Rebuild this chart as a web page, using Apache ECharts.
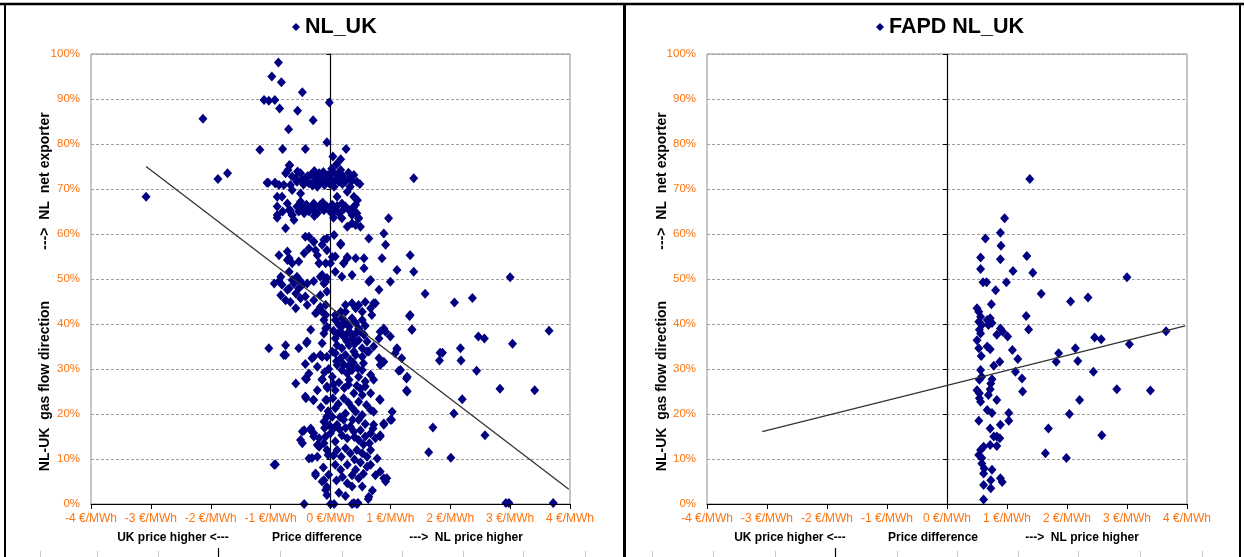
<!DOCTYPE html>
<html>
<head>
<meta charset="utf-8">
<script src="https://cdn.jsdelivr.net/npm/echarts@6/dist/echarts.min.js"></script>
<style>
html,body{margin:0;padding:0;background:#fff;}
#chart{width:1244px;height:557px;}
</style>
</head>
<body>
<div id="chart"></div>
<script>
// ---- DATA ----
// x: price difference (€/MWh), y: NL-UK gas flow direction (%)
const nlukPoints = [
[-0.87,98.1],[-0.98,95.0],[-0.82,93.7],[-0.47,91.5],[-1.11,89.8],[-1.03,89.6],[-0.93,89.8],[-0.02,89.2],
[-0.85,87.9],[-0.55,87.4],[-2.13,85.6],[-0.29,85.3],[-0.70,83.3],[-0.06,80.4],[-1.18,78.7],[-0.80,78.9],
[-0.42,78.9],[0.26,78.9],[0.04,77.2],[0.17,76.6],[-0.69,75.3],[1.39,72.4],[-3.08,68.3],[-1.88,72.2],
[-1.72,73.5],[-1.04,71.4],[-0.92,71.3],[-0.89,68.3],
[-1.06,71.4],[-0.93,71.4],[-0.78,70.9],[-0.75,73.5],[-0.68,75.3],[-0.71,74.2],[-0.64,72.8],[-0.56,71.6],
[-0.50,73.5],[-0.42,72.4],[-0.33,73.1],[-0.28,71.6],[-0.25,72.8],[-0.19,73.5],[-0.14,72.4],[-0.08,71.6],
[-0.04,73.1],[0.00,72.4],[0.04,73.9],[0.08,72.0],[0.11,73.1],[0.17,74.2],[0.21,72.8],[0.25,71.6],
[0.33,72.4],[0.39,73.1],[0.44,71.6],[0.49,71.1],[-0.17,71.3],[-0.36,71.3],[-0.67,70.9],[-0.86,70.9],
[-0.22,70.5],[0.06,70.5],[0.14,71.6],[-0.47,72.0],[-0.58,72.4],[0.33,70.5],[0.28,69.4],[0.39,68.3],
[0.11,68.3],[-0.81,68.3],[-0.50,69.0],[-0.64,69.8],
[-0.45,71.0],[-0.38,72.9],[-0.30,70.8],[-0.20,72.1],[-0.10,70.9],[-0.02,71.2],[0.06,71.8],[0.13,72.6],
[0.20,71.1],[0.30,73.6],[0.36,71.9],[-0.12,73.8],[-0.27,74.0],[0.02,74.5],[0.10,75.5],[-0.55,73.9],
[-0.89,66.1],[-0.89,64.2],[-0.72,66.8],[-0.67,65.3],[-0.64,64.2],[-0.61,63.1],[-0.56,66.1],[-0.50,67.2],
[-0.44,64.6],[-0.36,65.0],[-0.31,65.7],[-0.22,64.6],[-0.17,66.5],[-0.11,65.3],[-0.06,66.1],[0.03,66.5],
[0.08,65.3],[0.14,64.6],[0.19,66.8],[0.25,66.1],[0.31,65.3],[0.36,64.2],[0.42,66.5],[0.44,64.6],
[0.47,63.5],[-0.28,66.8],
[-0.80,65.0],[-0.48,65.8],[-0.27,64.0],[-0.13,67.0],[0.00,64.9],[0.11,66.2],[0.22,65.5],[0.38,65.9],
[0.05,63.6],[-0.40,66.5],[0.45,67.5],
[-0.89,63.6],[-0.69,65.3],[-0.64,64.2],[-0.53,65.0],[-0.42,65.7],[-0.28,65.3],[-0.19,66.1],[-0.14,65.7],
[0.06,65.7],[0.19,63.5],[0.33,65.3],[0.36,62.4],[0.42,62.0],[0.47,63.5],[0.50,61.6],[0.28,61.6],[0.97,63.5],
[-0.75,61.3],[-0.42,59.4],[-0.36,56.8],[-0.28,58.3],[-0.14,57.6],[-0.06,59.0],[0.06,59.8],[0.17,57.9],
[0.64,59.0],[0.89,60.1],[0.92,57.6],[0.86,54.6],[1.33,55.3],
[-0.86,55.3],[-0.72,56.1],[-0.69,54.6],[-0.53,53.9],[-0.44,55.7],[-0.22,55.3],[-0.19,53.5],[-0.08,53.5],
[0.08,55.0],[0.08,51.6],[0.22,53.5],[0.28,54.6],[0.42,54.6],[0.56,54.6],[0.36,50.9],[0.56,52.4],
[0.64,49.4],[0.67,49.8],[0.19,50.5],[-0.08,49.4],[-0.14,50.9],[-0.06,50.2],[-0.83,50.5],[-0.81,48.7],
[-0.94,49.0],[-0.69,51.6],[-0.64,49.8],[1.11,52.0],[1.00,49.4],[1.39,51.6],[3.00,50.4],
[-0.36,59.4],[-0.28,58.3],[-0.11,58.7],[-0.25,56.4],[-0.19,53.5],[-0.06,56.4],[0.00,53.5],[0.03,54.9],
[0.17,57.6],[0.22,53.5],[0.28,54.9],[-0.72,54.2],[-0.64,53.5],
[-0.86,49.5],[-0.72,47.6],[-0.61,49.0],[-0.56,50.5],[-0.50,49.5],[-0.39,49.0],[-0.28,49.5],[-0.17,50.5],[-0.11,49.0],
[-0.83,46.4],[-0.69,47.9],[-0.67,44.9],[-0.58,46.8],[-0.50,45.7],[-0.42,46.1],[-0.39,44.2],[-0.28,45.3],
[-0.22,42.7],[-0.14,42.7],[-0.08,44.2],[-0.06,47.2],[-0.17,46.4],[-0.53,47.9],[-0.47,48.7],[-0.58,43.5],
[-0.75,45.3],[0.81,47.6],[0.72,44.6],[0.25,44.2],[0.36,44.6],[0.42,43.5],[0.47,44.2],[0.53,42.7],
[0.58,44.9],[0.67,43.5],[0.69,42.0],[0.25,42.7],[0.17,42.7],[0.08,42.0],[-0.25,42.4],[-0.17,43.8],[-0.08,42.0],
[0.75,44.6],[1.58,46.7],[2.07,44.8],[2.37,45.8],[1.32,41.8],[1.36,38.8],
[0.08,40.9],[0.14,39.8],[0.19,41.3],[0.25,40.5],[0.31,39.4],[0.36,41.3],[0.42,40.2],[0.47,39.0],
[0.53,40.9],[0.17,38.3],[0.22,37.2],[0.28,37.9],[0.36,36.8],[0.42,37.9],[0.47,36.4],[0.56,37.6],
[0.61,36.1],[0.08,36.8],[0.11,35.3],[0.19,34.6],[0.31,35.3],[0.39,33.9],[0.53,34.6],[0.64,33.9],
[0.72,35.0],[0.81,36.8],[0.83,38.3],[0.92,38.3],[1.00,37.2],[1.11,34.6],[1.33,42.0],[1.36,38.7],
[-0.11,40.9],[-0.08,39.0],[-0.14,35.7],[-0.39,36.1],[-0.75,35.3],[-1.03,34.6],[-0.53,34.6],[0.03,33.9],
[-0.75,33.1],[-0.40,35.8],[-0.33,38.7],[-0.11,37.9],[-0.06,39.4],[0.89,39.0],
[0.05,38.5],[0.12,37.8],[0.20,39.6],[0.27,36.2],[0.33,38.1],[0.40,35.5],[0.50,38.3],[0.58,39.6],
[-0.78,33.1],[-0.28,32.7],[-0.17,33.1],[-0.06,32.7],[0.08,33.5],[0.17,32.4],[0.25,33.1],[0.33,32.0],
[0.42,33.1],[0.53,32.7],[0.61,33.9],[0.81,32.4],[1.08,33.5],[1.11,34.4],[1.19,32.4],
[-0.42,27.9],[-0.36,29.0],[-0.58,26.8],[-0.14,27.6],[0.11,30.9],[0.19,29.8],[0.28,29.0],[0.36,29.8],
[0.31,27.6],[0.47,28.3],[0.53,29.8],[0.58,27.2],[0.67,28.7],[0.72,27.6],[0.83,30.9],[0.89,31.6],
[1.17,29.8],[1.28,28.3],[0.03,28.3],[1.14,29.6],[1.27,27.9],[1.27,25.2],
[-0.42,31.1],[-0.31,32.4],[-0.22,30.5],[-0.14,32.7],[-0.06,26.1],[-0.22,25.3],[-0.40,27.7],[-0.14,27.7],
[0.10,31.7],[0.22,31.0],[0.30,30.6],[0.38,31.4],[0.45,30.2],[0.55,31.3],[0.05,26.6],[0.14,27.0],
[0.23,25.8],[0.30,26.5],[0.44,26.3],[0.50,25.6],[-0.03,30.0],[-0.10,29.3],[-0.05,25.8],
[1.83,33.6],[1.82,31.9],[1.87,33.6],[2.17,34.6],[2.18,31.9],[2.47,37.2],[2.57,36.8],[3.04,35.6],
[3.65,38.5],[2.44,29.6],[2.83,25.6],[3.41,25.3],[2.20,23.3],[2.06,20.1],[1.71,17.0],[2.58,15.3],
[1.64,11.5],[2.01,10.3],[2.93,0.2],[2.98,0.2],[3.72,0.2],
[-0.42,23.9],[-0.28,23.1],[-0.06,23.1],[0.08,25.3],[0.22,23.5],[0.39,24.6],[0.47,22.7],[0.53,24.2],
[0.58,26.1],[0.67,24.6],[0.72,20.5],[0.83,23.1],[1.28,25.0],[0.08,21.3],[0.25,20.1],[0.42,20.5],
[0.53,19.8],[0.67,20.9],[1.03,20.5],[-0.06,19.4],[-0.11,18.3],[-0.41,23.5],[-0.29,23.1],[-0.08,23.1],
[0.82,23.3],[0.04,23.5],[0.13,22.2],[0.30,22.5],[0.36,21.4],[0.60,22.0],[-0.16,21.5],[-0.04,20.6],
[0.03,19.4],[0.11,17.6],[0.22,18.7],[0.33,17.2],[0.47,18.7],[0.50,16.4],[0.72,17.6],[0.89,17.9],
[1.00,18.7],[-0.47,16.1],[-0.33,16.4],[-0.28,15.0],[-0.50,14.2],[-0.19,14.6],[-0.08,15.0],[0.00,15.7],
[0.08,13.9],[0.19,15.3],[0.28,14.6],[0.39,16.1],[0.47,14.2],[0.58,15.0],[0.67,15.7],[0.75,14.6],
[0.83,15.3],[-0.19,12.7],[-0.06,12.0],[0.11,12.0],[0.25,12.4],[0.33,11.3],[0.44,12.0],[0.53,11.3],
[0.61,10.5],[0.67,12.0],[0.78,10.1],[-0.36,10.1],[-0.94,8.7],[-0.44,16.4],[-0.33,16.8],[-0.28,15.7],
[-0.22,13.1],[-0.22,10.5],[-0.06,19.4],[-0.11,13.5],[-0.31,10.2],[-0.47,13.5],[1.02,18.7],[0.89,17.6],
[0.83,15.0],[0.71,16.8],[0.16,19.3],[0.37,18.7],[0.58,17.8],[0.05,16.8],[0.15,16.6],[0.25,16.9],
[0.40,14.9],[0.55,13.2],[0.65,13.5],[0.05,10.8],[0.18,10.5],[0.40,9.9],[0.50,9.2],[-0.02,17.5],
[-0.10,16.9],[-0.04,10.9],
[-0.25,6.4],[-0.11,5.3],[-0.06,3.8],[-0.06,2.0],[0.08,8.7],[0.17,7.6],[0.28,8.7],[0.36,6.4],
[0.42,7.6],[0.47,5.7],[0.61,8.3],[0.67,8.7],[0.75,6.4],[0.83,7.2],[0.89,5.7],[0.94,5.7],
[0.28,4.6],[0.36,3.9],[0.53,3.9],[0.64,1.6],[-0.44,0.0],[0.00,0.0],[0.06,0.0],[0.36,0.0],[0.44,0.0],
[-0.25,6.8],[-0.14,5.0],[-0.08,3.1],[0.92,5.0],[0.63,1.1],[0.39,0.2],[0.46,0.2],[0.10,5.2],[0.20,6.0],
[0.55,6.7],[0.14,2.5],[0.25,1.8],[0.70,3.0],[-0.12,8.1],[-0.03,6.5],[-0.92,8.8]
];

const fapdPoints = [
[1.38,72.2],[0.96,63.5],[0.89,60.3],[0.64,59.0],[0.90,57.4],[0.56,54.8],[0.89,54.4],[1.33,55.1],
[0.56,52.2],[1.10,51.8],[1.43,51.4],[0.60,49.3],[0.66,49.3],[0.99,49.3],[0.81,47.5],[1.57,46.7],
[2.06,45.0],[2.35,45.9],[3.00,50.4],
[0.74,44.4],[0.50,43.5],[0.53,42.7],[0.56,41.6],[0.53,40.5],[0.58,39.8],[0.54,38.7],[0.56,37.9],
[0.50,36.4],[0.67,40.9],[0.72,41.3],[0.75,40.2],[0.69,39.8],[1.32,41.8],[1.36,38.8],[0.89,39.0],
[0.93,38.3],[0.83,37.6],[1.01,37.2],[0.67,35.0],[0.72,34.4],[0.53,34.6],[0.57,32.9],[1.09,34.2],
[1.18,32.2],[0.88,31.6],[0.78,30.7],[1.14,29.4],[1.25,27.9],[0.56,29.8],[0.58,28.3],[0.54,27.6],
[0.75,27.7],[0.73,26.8],[0.50,25.3],[0.54,24.6],[0.72,25.5],[0.69,24.2],[0.56,22.7],[0.54,23.5],
[0.83,23.1],[1.26,25.0],[1.86,33.5],[1.82,31.6],[2.14,34.6],[2.18,31.8],[2.44,29.4],[2.46,37.0],
[2.57,36.6],[3.04,35.5],[3.65,38.4],[2.83,25.5],[3.39,25.2],[2.21,23.1],[2.04,20.0],[0.67,20.9],
[0.75,20.2],[1.03,20.2],[1.03,18.5],[0.53,18.5],[0.89,17.6],[0.72,16.8],[0.78,15.0],[0.83,15.0],
[0.88,14.6],[0.72,13.1],[0.83,12.9],[0.56,12.0],[0.61,12.7],[0.53,10.9],[0.58,10.2],[1.69,16.8],
[2.58,15.3],[1.64,11.3],[1.99,10.2],[0.58,9.0],[0.62,7.9],[0.61,6.8],[0.75,7.6],[0.89,5.7],
[0.92,4.9],[0.73,5.3],[0.73,3.5],[0.61,4.2],[0.61,1.0]
];

// linear trend lines (end points)
const nlukTrendX = [-3.08, 3.98];
const nlukTrendY = [75.0, 3.3];
const fapdTrendX = [-3.08, 3.97];
const fapdTrendY = [16.1, 39.6];

const xTicks = { min: -4, max: 4, step: 1, unit: ' €/MWh' };
const yTicks = { min: 0, max: 100, step: 10, unit: '%' };

const titles = ['NL_UK', 'FAPD NL_UK'];
const xNameParts = ['UK price higher <---', 'Price difference', '--->  NL price higher'];
const yNameParts = ['NL-UK  gas flow direction', '--->  NL  net exporter'];

// ---- CHART ----
const ORANGE = '#FF7410';
const NAVY = '#000080';
const FONT = '"Liberation Sans", Arial, sans-serif';

function xAxis(i) {
  return {
    type: 'value', gridIndex: i, min: xTicks.min, max: xTicks.max, interval: xTicks.step, z: 3,
    axisLine: { onZero: false, lineStyle: { color: '#000', width: 1 } },
    axisTick: { show: true, length: 5, lineStyle: { color: '#000' } },
    axisLabel: { color: ORANGE, fontSize: 12, fontFamily: FONT, margin: 9,
      formatter: v => v + xTicks.unit },
    splitLine: { show: false }
  };
}
function yAxis(i) {
  return {
    type: 'value', gridIndex: i, min: yTicks.min, max: yTicks.max, interval: yTicks.step,
    axisLine: { onZero: true, lineStyle: { color: '#000', width: 1.2 } },
    axisTick: { show: true, length: 4, lineStyle: { color: '#000' } },
    axisLabel: { color: ORANGE, fontSize: 11.5, fontFamily: FONT, margin: 11,
      formatter: v => v + yTicks.unit },
    splitLine: { show: true, lineStyle: { color: '#a0a0a0', type: [3, 2], width: 1 } }
  };
}

const graphic = [];
function vText(x, y, t) {
  graphic.push({ type: 'text', x: x, y: y, rotation: Math.PI / 2,
    style: { text: t, font: 'bold 14px ' + FONT, fill: '#000', align: 'center', verticalAlign: 'middle' } });
}
function hText(x, y, t) {
  graphic.push({ type: 'text', x: x, y: y,
    style: { text: t, font: 'bold 12px ' + FONT, fill: '#000', align: 'center', verticalAlign: 'middle' } });
}
vText(45, 386, yNameParts[0]); vText(45, 181, yNameParts[1]);
vText(662, 386, yNameParts[0]); vText(662, 181, yNameParts[1]);
hText(173, 538, xNameParts[0]); hText(317, 538, xNameParts[1]); hText(466, 538, xNameParts[2]);
hText(790, 538, xNameParts[0]); hText(933, 538, xNameParts[1]); hText(1082, 538, xNameParts[2]);

function line(x1, y1, x2, y2, w, c) {
  graphic.push({ type: 'line', shape: { x1, y1, x2, y2 }, style: { stroke: c, lineWidth: w }, silent: true });
}
// outer frame and divider
line(0, 4, 1244, 4, 2.5, '#000');
line(5, 4, 5, 557, 2, '#000');
line(624.5, 4, 624.5, 557, 3, '#000');
line(1240, 4, 1240, 557, 2, '#000');
// sheet cell marks at the bottom
[40, 97, 158, 280, 342, 402, 463, 523, 585, 652, 713, 775, 897, 957, 1018, 1078, 1140, 1202]
  .forEach(x => line(x + 0.5, 551, x + 0.5, 557, 1, '#c8c8c8'));
[218, 835].forEach(x => line(x + 0.5, 548, x + 0.5, 557, 1.2, '#000'));

const chart = echarts.init(document.getElementById('chart'), null, { renderer: 'canvas' });
chart.setOption({
  animation: false,
  backgroundColor: '#fff',
  textStyle: { fontFamily: FONT },
  legend: [
    { data: [titles[0]], left: 292, top: 16, padding: 0, icon: 'diamond', itemWidth: 8, itemHeight: 8,
      textStyle: { fontSize: 21.5, fontWeight: 'bold', color: '#000', fontFamily: FONT }, selectedMode: false },
    { data: [titles[1]], left: 876, top: 16, padding: 0, icon: 'diamond', itemWidth: 8, itemHeight: 8,
      textStyle: { fontSize: 21.5, fontWeight: 'bold', color: '#000', fontFamily: FONT }, selectedMode: false }
  ],
  grid: [
    { left: 91, right: 674, top: 54, bottom: 53, show: true, borderColor: '#8c8c8c', borderWidth: 1, backgroundColor: '#fff' },
    { left: 707, right: 57, top: 54, bottom: 53, show: true, borderColor: '#8c8c8c', borderWidth: 1, backgroundColor: '#fff' }
  ],
  xAxis: [xAxis(0), xAxis(1)],
  yAxis: [yAxis(0), yAxis(1)],
  series: [
    { name: titles[0], type: 'scatter', xAxisIndex: 0, yAxisIndex: 0, symbol: 'diamond', symbolSize: [9, 10],
      itemStyle: { color: NAVY, opacity: 1 }, data: nlukPoints, z: 2 },
    { name: 'trend0', type: 'line', xAxisIndex: 0, yAxisIndex: 0, symbol: 'none',
      lineStyle: { color: '#333', width: 1.3 }, data: nlukTrendX.map((x, i) => [x, nlukTrendY[i]]), z: 3 },
    { name: titles[1], type: 'scatter', xAxisIndex: 1, yAxisIndex: 1, symbol: 'diamond', symbolSize: [9, 10],
      itemStyle: { color: NAVY, opacity: 1 }, data: fapdPoints, z: 2 },
    { name: 'trend1', type: 'line', xAxisIndex: 1, yAxisIndex: 1, symbol: 'none',
      lineStyle: { color: '#333', width: 1.3 }, data: fapdTrendX.map((x, i) => [x, fapdTrendY[i]]), z: 3 }
  ],
  graphic: graphic
});
</script>
</body>
</html>
